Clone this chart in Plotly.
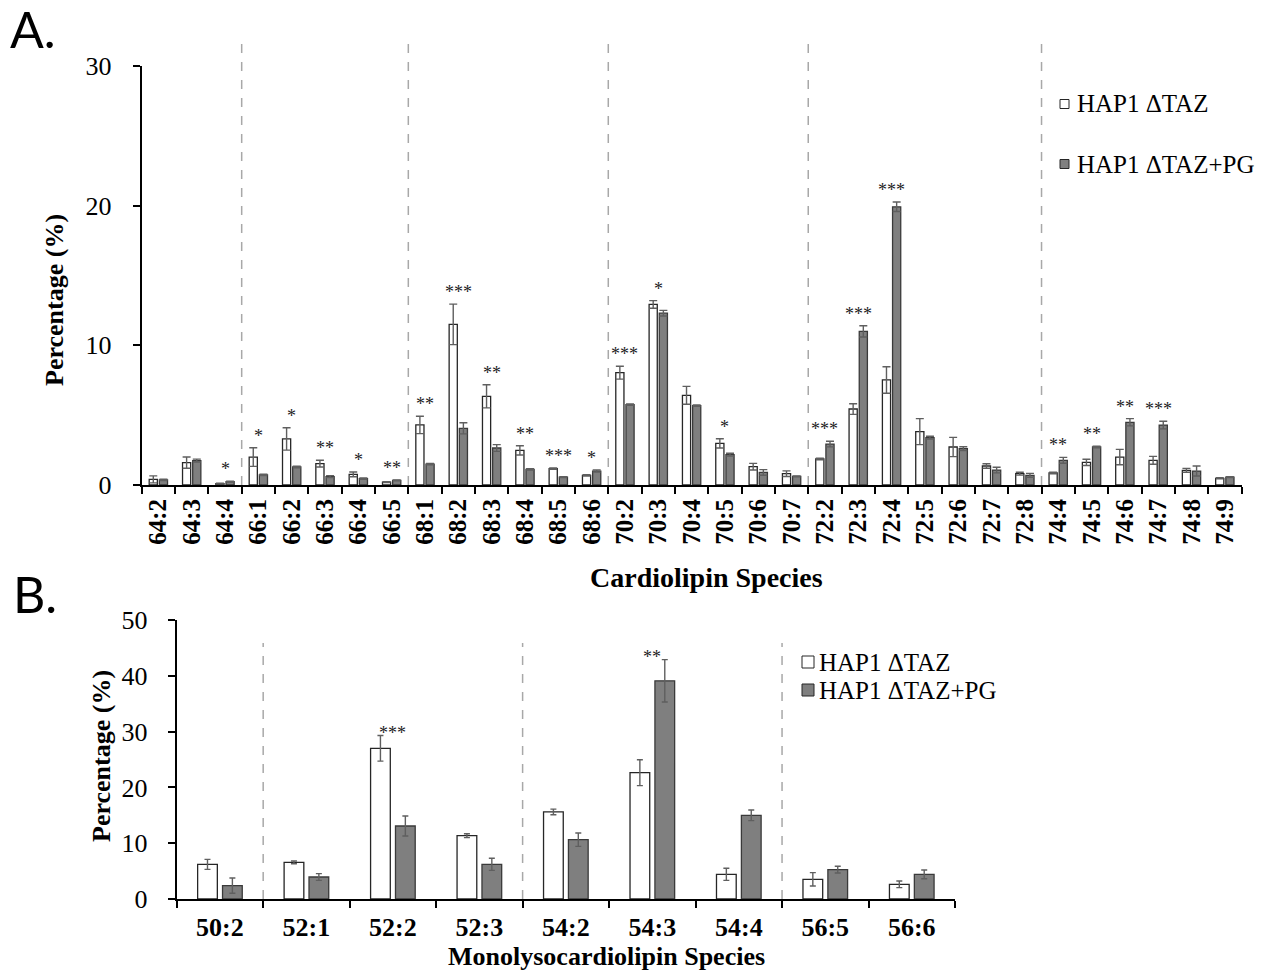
import plotly.graph_objects as go

# ---------------- Data: Panel A (Cardiolipin) ----------------
cl_species = ["64:2", "64:3", "64:4", "66:1", "66:2", "66:3", "66:4", "66:5",
              "68:1", "68:2", "68:3", "68:4", "68:5", "68:6",
              "70:2", "70:3", "70:4", "70:5", "70:6", "70:7",
              "72:2", "72:3", "72:4", "72:5", "72:6", "72:7", "72:8",
              "74:4", "74:5", "74:6", "74:7", "74:8", "74:9"]
cl_taz = [0.4, 1.6, 0.1, 2.0, 3.3, 1.53, 0.76, 0.2,
          4.3, 11.5, 6.35, 2.48, 1.17, 0.69,
          8.04, 12.93, 6.42, 2.98, 1.31, 0.81,
          1.86, 5.44, 7.52, 3.82, 2.72, 1.36, 0.81,
          0.86, 1.62, 2.0, 1.77, 1.05, 0.48]
cl_taz_err = [0.25, 0.4, 0.03, 0.67, 0.8, 0.24, 0.17, 0.03,
              0.62, 1.45, 0.83, 0.33, 0.05, 0.05,
              0.46, 0.27, 0.64, 0.33, 0.24, 0.2,
              0.05, 0.38, 0.95, 0.93, 0.69, 0.16, 0.1,
              0.05, 0.22, 0.55, 0.28, 0.14, 0.04]
cl_pg = [0.36, 1.75, 0.24, 0.72, 1.29, 0.6, 0.45, 0.33,
         1.5, 4.06, 2.65, 1.12, 0.57, 1.0,
         5.75, 12.3, 5.68, 2.17, 0.9, 0.62,
         2.93, 11.0, 19.92, 3.39, 2.6, 1.07, 0.69,
         1.77, 2.72, 4.49, 4.29, 1.0, 0.57]
cl_pg_err = [0.05, 0.1, 0.03, 0.05, 0.05, 0.07, 0.05, 0.03,
             0.05, 0.4, 0.24, 0.05, 0.03, 0.07,
             0.05, 0.2, 0.05, 0.1, 0.2, 0.03,
             0.2, 0.4, 0.34, 0.1, 0.14, 0.2, 0.14,
             0.21, 0.05, 0.26, 0.27, 0.36, 0.03]
cl_sig = ["", "", "*", "*", "*", "**", "*", "**",
          "**", "***", "**", "**", "***", "*",
          "***", "*", "", "*", "", "",
          "***", "***", "***", "", "", "", "",
          "**", "**", "**", "***", "", ""]

# ---------------- Data: Panel B (Monolysocardiolipin) ----------------
mlcl_species = ["50:2", "52:1", "52:2", "52:3", "54:2", "54:3", "54:4", "56:5", "56:6"]
mlcl_taz = [6.21, 6.57, 27.0, 11.35, 15.6, 22.64, 4.42, 3.52, 2.63]
mlcl_taz_err = [0.9, 0.24, 2.3, 0.35, 0.5, 2.32, 1.08, 1.2, 0.6]
mlcl_pg = [2.39, 3.94, 13.08, 6.21, 10.63, 39.1, 15.0, 5.26, 4.42]
mlcl_pg_err = [1.37, 0.6, 1.79, 1.08, 1.2, 3.8, 0.95, 0.6, 0.78]
mlcl_sig = ["", "", "***", "", "", "**", "", "", ""]

series_names = ["HAP1 \u0394TAZ", "HAP1 \u0394TAZ+PG"]

# ---------------- Styling ----------------
W, H = 1268, 970
SERIF = "Liberation Serif"
WHITE_FILL, GRAY_FILL = "#ffffff", "#7f7f7f"
EDGE = "#262626"
ERR = "#5f5f5f"
DASH = "#a8a8a8"


def fx(p):
    return p / W


def fy(p):
    return 1 - p / H


A_x = [fx(141.7), fx(1241.5)]
A_y = [fy(485), fy(66)]
B_x = [fx(176.7), fx(955)]
B_y = [fy(899), fy(620)]

fig = go.Figure()


def add_pair(cats, v1, e1, v2, e2, xa, ya, width, off1, off2, capw):
    fig.add_trace(go.Bar(
        x=cats, y=v1, name=series_names[0], xaxis=xa, yaxis=ya,
        width=width, offset=off1, showlegend=False,
        marker=dict(color=WHITE_FILL, line=dict(color=EDGE, width=1.3)),
        error_y=dict(type="data", array=e1, visible=True, color=ERR,
                     thickness=1.4, width=capw)))
    fig.add_trace(go.Bar(
        x=cats, y=v2, name=series_names[1], xaxis=xa, yaxis=ya,
        width=width, offset=off2, showlegend=False,
        marker=dict(color=GRAY_FILL, line=dict(color="#3a3a3a", width=1.3)),
        error_y=dict(type="data", array=e2, visible=True, color=ERR,
                     thickness=1.4, width=capw)))


add_pair(cl_species, cl_taz, cl_taz_err, cl_pg, cl_pg_err, "x", "y",
         0.245, -0.275, 0.03, 4)
add_pair(mlcl_species, mlcl_taz, mlcl_taz_err, mlcl_pg, mlcl_pg_err, "x2", "y2",
         0.228, -0.258, 0.03, 3)

annotations = []
shapes = []

# significance stars
for cats, v1, e1, v2, e2, sig, xr, yr, ys in [
        (cl_species, cl_taz, cl_taz_err, cl_pg, cl_pg_err, cl_sig, "x", "y", 0),
        (mlcl_species, mlcl_taz, mlcl_taz_err, mlcl_pg, mlcl_pg_err, mlcl_sig, "x2", "y2", -9)]:
    for i, s in enumerate(sig):
        if s:
            top = max(v1[i] + e1[i], v2[i] + e2[i])
            annotations.append(dict(x=cats[i], y=top, xref=xr, yref=yr, text=s,
                                    showarrow=False, yanchor="bottom", yshift=ys,
                                    font=dict(family=SERIF, size=18, color="#222")))


# dashed separators between chain-length groups
def separators(cats, xr, yr, top):
    n = len(cats)
    for k in range(n - 1):
        if cats[k].split(":")[0] != cats[k + 1].split(":")[0]:
            shapes.append(dict(type="line", xref=xr + " domain", yref=yr + " domain",
                               x0=(k + 1) / n, x1=(k + 1) / n, y0=0, y1=top,
                               line=dict(color=DASH, width=1.5, dash="dash")))


separators(cl_species, "x", "y", 1.067)
separators(mlcl_species, "x2", "y2", 0.918)


# manual legends
def legend(xsq, size, ys, xtext):
    for name, fill, yc in zip(series_names, [WHITE_FILL, GRAY_FILL], ys):
        shapes.append(dict(type="rect", xref="paper", yref="paper",
                           x0=fx(xsq), x1=fx(xsq + size),
                           y0=fy(yc + size / 2), y1=fy(yc - size / 2),
                           fillcolor=fill, line=dict(color=EDGE, width=1)))
        annotations.append(dict(x=fx(xtext), y=fy(yc), xref="paper", yref="paper",
                                text=name, showarrow=False, xanchor="left",
                                yanchor="middle",
                                font=dict(family=SERIF, size=25, color="black")))


legend(1060, 9, [104, 164], 1075)
legend(802, 12, [662, 690], 817)

# axis titles and panel labels
bold = dict(family=SERIF, size=26, color="black", weight="bold")
annotations += [
    dict(x=fx(54.5), y=fy(300.5), xref="paper", yref="paper", text="Percentage (%)",
         textangle=-90, showarrow=False, xanchor="center", yanchor="middle", font=bold),
    dict(x=fx(706), y=fy(577.5), xref="paper", yref="paper", text="Cardiolipin Species",
         showarrow=False, xanchor="center", yanchor="middle",
         font=dict(family=SERIF, size=28, color="black", weight="bold")),
    dict(x=fx(101), y=fy(756), xref="paper", yref="paper", text="Percentage (%)",
         textangle=-90, showarrow=False, xanchor="center", yanchor="middle", font=bold),
    dict(x=fx(606), y=fy(956), xref="paper", yref="paper",
         text="Monolysocardiolipin Species",
         showarrow=False, xanchor="center", yanchor="middle", font=bold),
    dict(x=fx(8), y=fy(29), xref="paper", yref="paper", text="A.", showarrow=False,
         xanchor="left", yanchor="middle", font=dict(family="Lato", size=50, color="black")),
    dict(x=fx(11), y=fy(594), xref="paper", yref="paper", text="B.", showarrow=False,
         xanchor="left", yanchor="middle", font=dict(family="Lato", size=50, color="black")),
]

xcommon = dict(type="category", showline=True, linecolor="black", linewidth=2,
               ticks="outside", tickson="boundaries", ticklen=7, tickwidth=2,
               tickcolor="black", showgrid=False, zeroline=False, automargin=False)
ycommon = dict(showline=True, linecolor="black", linewidth=2, ticks="outside",
               ticklen=7, tickwidth=2, tickcolor="black", showgrid=False,
               zeroline=False, automargin=False,
               tickfont=dict(family=SERIF, size=26, color="black"))

fig.update_layout(
    width=W, height=H,
    margin=dict(l=0, r=0, t=0, b=0, pad=0, autoexpand=False),
    paper_bgcolor="white", plot_bgcolor="white",
    barmode="overlay", showlegend=False,
    xaxis=dict(domain=A_x, anchor="y", tickangle=-90, ticklabelstandoff=2,
               range=[-0.5, len(cl_species) - 0.5],
               tickfont=dict(family=SERIF, size=25, color="black", weight="bold"), **xcommon),
    yaxis=dict(domain=A_y, anchor="x", range=[0, 30], tickvals=[0, 10, 20, 30],
               ticklabelstandoff=16, **ycommon),
    xaxis2=dict(domain=B_x, anchor="y2", tickangle=0, ticklabelstandoff=4,
                range=[-0.5, len(mlcl_species) - 0.5],
                tickfont=dict(family=SERIF, size=26, color="black", weight="bold"), **xcommon),
    yaxis2=dict(domain=B_y, anchor="x2", range=[0, 50], tickvals=[0, 10, 20, 30, 40, 50],
                ticklabelstandoff=15, **ycommon),
    annotations=annotations, shapes=shapes,
)

fig.write_html("out.html")
